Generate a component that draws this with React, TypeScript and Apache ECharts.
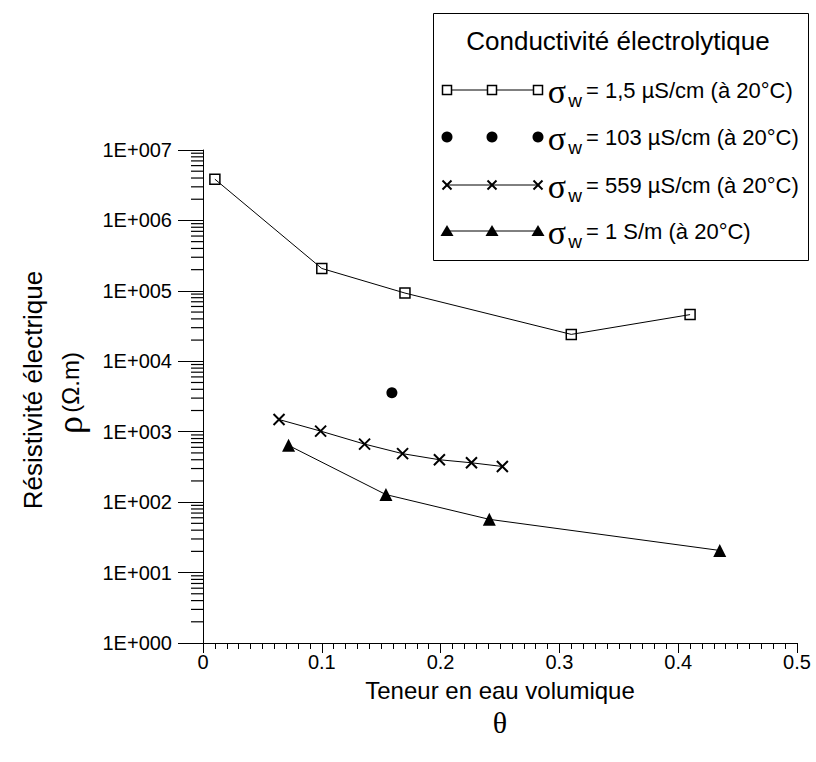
import React, { useEffect, useRef } from "react";
import * as echarts from "echarts";

const xTicks = [0, 0.1, 0.2, 0.3, 0.4, 0.5];
const yExponents = [0, 1, 2, 3, 4, 5, 6, 7];

const sqX = [0.01, 0.1, 0.17, 0.31, 0.41];
const sqY = [3850000, 208000, 93000, 24100, 46000];

const dotX = [0.159];
const dotY = [3570];

const crossX = [0.064, 0.099, 0.136, 0.168, 0.199, 0.226, 0.252];
const crossY = [1490, 1020, 667, 488, 400, 362, 321];

const triX = [0.072, 0.154, 0.241, 0.435];
const triY = [640, 128, 57, 20.6];

const legendLabels = [
  "= 1,5 µS/cm (à 20°C)",
  "= 103 µS/cm (à 20°C)",
  "= 559 µS/cm (à 20°C)",
  "= 1 S/m (à 20°C)",
];

const SANS = "'Liberation Sans', Arial, sans-serif";
const SERIF = "'Liberation Serif', 'Times New Roman', serif";

function zip(xs: number[], ys: number[]) {
  return xs.map((x, i) => [x, ys[i]]);
}

export default function App() {
  const ref = useRef<HTMLDivElement>(null);
  useEffect(() => {
    if (!ref.current) return;
    const chart = echarts.init(ref.current, null, { renderer: "svg" });

    const lgX0 = 447, lgX1 = 492, lgX2 = 538;
    const rowsY = [90, 137, 185, 231];
    const g: any[] = [
      {
        type: "rect",
        shape: { x: 433.5, y: 13.5, width: 375, height: 247 },
        style: { fill: "#fff", stroke: "#000", lineWidth: 1 },
        z: 10,
      },
      {
        type: "text",
        x: 618,
        y: 41,
        style: { text: "Conductivité électrolytique", font: `26px ${SANS}`, fill: "#000", align: "center", verticalAlign: "middle" },
        z: 11,
      },
    ];
    const xs = [lgX0, lgX1, lgX2];
    rowsY.forEach((y, i) => {
      if (i !== 1) {
        g.push({ type: "line", shape: { x1: lgX0, y1: y, x2: lgX2, y2: y }, style: { stroke: "#000", lineWidth: 1 }, z: 11 });
      }
      xs.forEach((x) => {
        if (i === 0) g.push({ type: "rect", shape: { x: x - 4.5, y: y - 4.5, width: 9, height: 9 }, style: { fill: "#fff", stroke: "#000", lineWidth: 1.5 }, z: 12 });
        if (i === 1) g.push({ type: "circle", shape: { cx: x, cy: y, r: 5.5 }, style: { fill: "#000" }, z: 12 });
        if (i === 2) {
          g.push({ type: "line", shape: { x1: x - 4.5, y1: y - 4.5, x2: x + 4.5, y2: y + 4.5 }, style: { stroke: "#000", lineWidth: 2 }, z: 12 });
          g.push({ type: "line", shape: { x1: x - 4.5, y1: y + 4.5, x2: x + 4.5, y2: y - 4.5 }, style: { stroke: "#000", lineWidth: 2 }, z: 12 });
        }
        if (i === 3) g.push({ type: "polygon", shape: { points: [[x, y - 6], [x - 6.5, y + 5], [x + 6.5, y + 5]] }, style: { fill: "#000" }, z: 12 });
      });
      g.push({ type: "text", x: 557, y: y + 1, style: { text: "σ", font: `34px ${SERIF}`, fill: "#000", align: "center", verticalAlign: "middle" }, z: 11 });
      g.push({ type: "text", x: 575, y: y + 10, style: { text: "w", font: `19px ${SANS}`, fill: "#000", align: "center", verticalAlign: "middle" }, z: 11 });
      g.push({ type: "text", x: 586, y: y, style: { text: legendLabels[i], font: `22px ${SANS}`, fill: "#000", align: "left", verticalAlign: "middle" }, z: 11 });
    });

    g.push({
      type: "text", x: 33, y: 390, rotation: Math.PI / 2,
      style: { text: "Résistivité électrique", font: `26px ${SANS}`, fill: "#000", align: "center", verticalAlign: "middle" },
    });
    g.push({
      type: "text", x: 70, y: 393, rotation: Math.PI / 2,
      style: {
        text: "{r|ρ} {t|(Ω.m)}",
        align: "center", verticalAlign: "middle",
        rich: {
          r: { font: `36px ${SERIF}`, fill: "#000" },
          t: { font: `24px ${SANS}`, fill: "#000" },
        },
      },
    });
    g.push({
      type: "text", x: 500, y: 690,
      style: { text: "Teneur en eau volumique", font: `24px ${SANS}`, fill: "#000", align: "center", verticalAlign: "middle" },
    });
    g.push({
      type: "text", x: 500, y: 722,
      style: { text: "θ", font: `30px ${SERIF}`, fill: "#000", align: "center", verticalAlign: "middle" },
    });

    const option: any = {
      animation: false,
      backgroundColor: "#fff",
      grid: { left: 203, right: 19, top: 150, bottom: 119, containLabel: false },
      xAxis: {
        type: "value",
        min: xTicks[0],
        max: xTicks[xTicks.length - 1],
        interval: 0.1,
        axisLine: { show: true, onZero: false, lineStyle: { color: "#000", width: 1 } },
        axisTick: { show: true, inside: false, length: 10, lineStyle: { color: "#000" } },
        minorTick: { show: true, splitNumber: 10, length: 6, lineStyle: { color: "#000", width: 1 } },
        splitLine: { show: false },
        axisLabel: {
          color: "#000", fontFamily: SANS, fontSize: 20, margin: 9,
          formatter: (v: number) => String(parseFloat(v.toFixed(1))),
        },
      },
      yAxis: {
        type: "log",
        logBase: 10,
        min: Math.pow(10, yExponents[0]),
        max: Math.pow(10, yExponents[yExponents.length - 1]),
        axisLine: { show: true, onZero: false, lineStyle: { color: "#000", width: 1 } },
        axisTick: { show: true, inside: false, length: 25, lineStyle: { color: "#000" } },
        splitLine: { show: false },
        axisLabel: {
          color: "#000", fontFamily: SANS, fontSize: 20, margin: 31,
          formatter: (v: number) => "1E+" + String(Math.round(Math.log10(v))).padStart(3, "0"),
        },
      },
      series: [
        {
          type: "line",
          data: zip(sqX, sqY),
          symbol: "rect",
          symbolSize: 10,
          lineStyle: { color: "#000", width: 1 },
          itemStyle: { color: "rgba(255,255,255,0)", borderColor: "#000", borderWidth: 1.5 },
          silent: true,
        },
        {
          type: "scatter",
          data: zip(dotX, dotY),
          symbol: "circle",
          symbolSize: 11,
          itemStyle: { color: "#000", opacity: 1 },
          silent: true,
        },
        {
          type: "line",
          data: zip(crossX, crossY),
          symbol: "path://M0,0L10,10M10,0L0,10",
          symbolSize: 11,
          lineStyle: { color: "#000", width: 1 },
          itemStyle: { color: "rgba(0,0,0,0)", borderColor: "#000", borderWidth: 2 },
          silent: true,
        },
        {
          type: "line",
          data: zip(triX, triY),
          symbol: "triangle",
          symbolSize: 13,
          lineStyle: { color: "#000", width: 1 },
          itemStyle: { color: "#000" },
          silent: true,
        },
      ],
    };
    chart.setOption(option);

    // minor log ticks (2..9 per decade) on the y axis, positioned through the axis scale
    const minor: any[] = [];
    for (let k = 0; k < yExponents.length - 1; k++) {
      for (let m = 2; m <= 9; m++) {
        const v = m * Math.pow(10, yExponents[k]);
        const p = chart.convertToPixel({ gridIndex: 0 } as any, [xTicks[0], v]) as number[];
        if (p && isFinite(p[0]) && isFinite(p[1])) {
          minor.push({
            type: "line",
            shape: { x1: p[0] - 12, y1: p[1], x2: p[0], y2: p[1] },
            style: { stroke: "#000", lineWidth: 1.2 },
            silent: true,
          });
        }
      }
    }
    chart.setOption({ graphic: minor.concat(g) });

    return () => chart.dispose();
  }, []);
  return (
    <div
      ref={ref}
      style={{ position: "fixed", left: 0, top: 0, width: 816, height: 762, background: "#fff" }}
    />
  );
}
